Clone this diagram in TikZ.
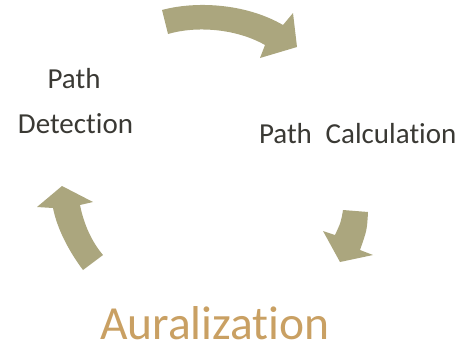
\documentclass[tikz,border=0pt]{standalone}
\usepackage{fontspec}
\setmainfont{Carlito}[RawFeature={-liga;-clig;-dlig}]
\definecolor{arrowfill}{RGB}{171,166,126}
\definecolor{labeltext}{RGB}{58,57,52}
\definecolor{auracolor}{RGB}{201,160,99}
\begin{document}
\begin{tikzpicture}[x=1pt,y=-1pt,
  cyclearrow/.style={fill=arrowfill,draw=none},
  lbl/.style={inner sep=0pt,outer sep=0pt,text=labeltext,font=\fontsize{29}{35}\selectfont},
  biglbl/.style={inner sep=0pt,outer sep=0pt,text=auracolor,font=\fontsize{47.5}{52}\selectfont}]
\useasboundingbox (0,0) rectangle (460,346);
% top arrow
\path[cyclearrow] (162,10) .. controls (195,1) and (245,3) .. (283,25)
  -- (293,13) -- (297,47) -- (260,58) -- (265,45)
  .. controls (235,28) and (195,26) .. (168,34) -- cycle;
% right arrow
\path[cyclearrow] (343,210) -- (368,212) .. controls (367,230) .. (360,250)
  -- (373,255) -- (340,262) -- (323,231) -- (335,235)
  .. controls (341,222) .. (343,210) -- cycle;
% left arrow
\path[cyclearrow] (83,270) .. controls (68,250) and (57,228) .. (53,208)
  -- (37,207) -- (62,186) -- (93,202) -- (80,205)
  .. controls (84,225) and (92,242) .. (103,255) -- cycle;
\node[lbl,anchor=base] (pd1) at (74,88) {Path};
\node[lbl,anchor=base] (pd2) at (75.5,133) {Detection};
\node[lbl,anchor=base west] (pc) at (259,143) {Path\hspace{0.25em} Calculation};
\node[biglbl,anchor=base west] (au) at (100,339) {Auralization};
\end{tikzpicture}
\end{document}
